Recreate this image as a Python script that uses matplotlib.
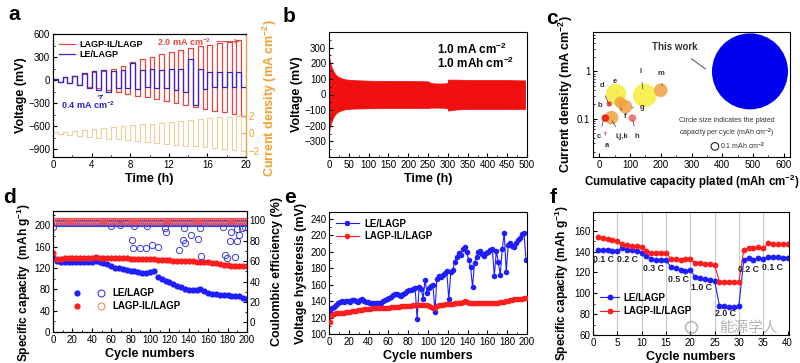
import numpy as np
import matplotlib
matplotlib.use('Agg')
import matplotlib.pyplot as plt
import matplotlib.font_manager as fm
from matplotlib.lines import Line2D
from matplotlib.legend_handler import HandlerTuple
from matplotlib.ticker import MultipleLocator, LogLocator, NullFormatter, FixedLocator, FixedFormatter

avail = {f.name for f in fm.fontManager.ttflist}
BASE = 'Liberation Sans Narrow' if 'Liberation Sans Narrow' in avail else 'Liberation Sans'
plt.rcParams['font.family'] = [BASE, 'DejaVu Sans']
plt.rcParams['mathtext.fontset'] = 'custom'
plt.rcParams['mathtext.rm'] = BASE
plt.rcParams['mathtext.bf'] = BASE + ':bold'
plt.rcParams['mathtext.default'] = 'bf'

# ---------------- data ----------------
# (a) symmetric cell, one cycle per hour, current stepped each cycle
a_current = [0.1, 0.2, 0.3, 0.4, 0.5, 0.6, 0.7, 0.8, 0.9, 1.0,
             1.1, 1.2, 1.3, 1.4, 1.5, 1.6, 1.7, 1.8, 1.9, 2.0]
a_red_top = [20, 40, 60, 80, 100, 125, 150, 190, 230, 270,
             305, 340, 370, 395, 420, 440, 460, 480, 500, 520]
a_red_bot = [-20, -40, -60, -85, -105, -125, -150, -180, -200, -225,
             -250, -275, -300, -325, -350, -375, -400, -420, -445, -470]
a_blue_top = [20, 35, 60, 90, 115, 135, 120, 130, 220, 130,
              150, 130, 150, 150, 270, 150, 105, 105, 105, 105]
a_blue_bot = [-20, -35, -65, -100, -130, -150, -100, -100, -110, -90,
              -100, -100, -130, -150, -330, -120, -90, -90, -90, -90]

# (b) long-term cycling envelope
b_time = [0, 2, 5, 10, 15, 20, 30, 40, 60, 100, 150, 200, 250, 258, 280, 299, 301, 320, 350, 400, 450, 495]
b_top = [250, 215, 185, 155, 132, 118, 105, 97, 92, 88, 86, 86, 84, 72, 70, 72, 95, 95, 92, 92, 92, 90]
b_bot = [-245, -210, -180, -150, -128, -115, -102, -95, -90, -88, -86, -86, -86, -84, -84, -86, -103, -96, -92, -92, -92, -92]

# (c) literature comparison
c_names = ['l', 'e', 'm', 'f', 'g', 'i,j,k', 'd', 'h', 'c', 'a', 'This work']
c_cum = [148, 55, 200, 68, 85, 40, 33, 108, 20, 20, 490]
c_cd = [0.31, 0.33, 0.40, 0.22, 0.18, 0.105, 0.205, 0.103, 0.103, 0.05, 1.0]
c_cap = [0.31, 0.27, 0.18, 0.15, 0.18, 0.18, 0.07, 0.10, 0.10, 0.04, 1.0]
c_colors = ['#f6ef3a', '#f6ea3a', '#f0a040', '#f0a040', '#f0a040', '#f0a040',
            '#ee3010', '#f06060', '#ee1100', '#f08080', '#0000ee']

# (d) full cell cycling
d_cyc = np.arange(0, 201, 4)
d_cap_le = [138, 133, 132, 131, 131, 131, 131, 132, 132, 132, 132, 133, 132, 130, 127, 124, 121,
            120, 118, 116, 114, 114, 112, 111, 110, 112, 114, 104, 99, 95, 93, 90, 87, 84, 81, 78,
            78, 79, 81, 76, 74, 72, 71, 70, 69, 70, 68, 67, 67, 64, 61]
d_cap_il = [148, 137, 137, 138, 138, 138, 138, 139, 139, 139, 139, 140, 139, 139, 138, 138, 138,
            138, 138, 138, 137, 137, 137, 137, 137, 137, 137, 136, 136, 136, 135, 134, 134, 134, 133,
            133, 133, 132, 132, 131, 131, 130, 129, 128, 126, 125, 124, 124, 123, 123, 123]
d_ce_cyc = np.arange(0, 201, 2)
d_ce_le = [93.5, 96.8, 97.0, 97.2, 96.9, 97.1, 97.0, 96.8, 97.2, 97.0,
           96.9, 97.1, 97.0, 97.2, 96.8, 97.0, 97.1, 96.9, 97.0, 97.2,
           97.0, 96.8, 97.1, 97.0, 96.9, 97.2, 97.0, 97.1, 96.8, 97.0,
           97.2, 96.9, 97.0, 97.1, 96.8, 97.0, 97.2, 96.9, 97.0, 97.1,
           96.8, 97.0, 97.2, 96.9, 97.0, 97.1, 96.8, 97.0, 97.2, 96.9,
           97.0, 97.1, 96.8, 97.0, 97.2, 96.9, 97.0, 97.1, 96.8, 97.0,
           97.2, 96.9, 97.0, 97.1, 96.8, 97.0, 97.2, 96.9, 97.0, 97.1,
           96.8, 97.0, 97.2, 96.9, 97.0, 97.1, 96.8, 97.0, 97.2, 96.9,
           97.0, 97.1, 96.8, 97.0, 97.2, 96.9, 97.0, 97.1, 96.8, 97.0,
           97.2, 96.9, 97.0, 97.1, 96.8, 97.0, 97.2, 96.9, 97.0, 97.1, 96.8]
d_ce_il = [97.0, 99.3, 99.5, 99.6, 99.5, 99.7, 99.6, 99.5, 99.6, 99.7,
           99.5, 99.6, 99.7, 99.5, 99.6, 99.6, 99.5, 99.7, 99.6, 99.5,
           99.6, 99.7, 99.5, 99.6, 99.6, 99.5, 99.7, 99.6, 99.5, 99.6,
           99.7, 99.5, 99.6, 99.6, 99.5, 99.7, 99.6, 99.5, 99.6, 99.7,
           99.5, 99.6, 99.6, 99.5, 99.7, 99.6, 99.5, 99.6, 99.7, 99.5,
           99.6, 99.6, 99.5, 99.7, 99.6, 99.5, 99.6, 99.7, 99.5, 99.6,
           99.6, 99.5, 99.7, 99.6, 99.5, 99.6, 99.7, 99.5, 99.6, 99.6,
           99.5, 99.7, 99.6, 99.5, 99.6, 99.7, 99.5, 99.6, 99.6, 99.5,
           99.7, 99.6, 99.5, 99.6, 99.7, 99.5, 99.6, 99.6, 99.5, 99.7,
           99.6, 99.5, 99.6, 99.7, 99.5, 99.6, 99.6, 99.5, 99.7, 99.6, 99.5]
d_out_cyc = [60, 69, 84, 97, 81, 82, 90, 96, 102, 108, 115, 117, 130, 134, 136, 135, 142, 149,
             152, 153, 175, 177, 179, 182, 183, 188, 190, 192, 195, 198, 190]
d_out_ce = [94.5, 95, 94.5, 94.5, 81, 73, 73, 73, 75.6, 74, 92, 88.6, 70.8, 81, 78, 92.5, 85.4,
            81.8, 92.5, 65, 93.5, 66, 63, 79.5, 88, 63.6, 79.5, 85.4, 92.5, 93.5, 91]

# (e) voltage hysteresis
e_cyc = np.arange(1, 200, 2)
e_le = [127, 131, 133, 135, 137, 139, 140, 139, 140, 140,
        139, 141, 141, 140, 139, 141, 142, 140, 139, 139,
        138, 138, 137, 137, 137, 138, 138, 140, 141, 143,
        144, 145, 147, 148, 149, 147, 146, 148, 150, 152,
        153, 153, 154, 156, 118, 157, 155, 143, 165, 150,
        156, 158, 159, 127, 167, 170, 169, 172, 174, 176,
        142, 175, 178, 187, 194, 198, 196, 203, 206, 200,
        190, 181, 157, 186, 194, 199, 201, 197, 195, 198,
        200, 202, 203, 170, 201, 187, 172, 203, 223, 175,
        208, 210, 207, 205, 210, 214, 217, 221, 222, 190]
e_il = [115, 123, 124, 125, 125, 126, 126, 126, 127, 127,
        127, 128, 128, 128, 129, 129, 129, 130, 130, 130,
        130, 131, 131, 131, 131, 131, 132, 132, 132, 132,
        132, 133, 133, 133, 133, 133, 134, 134, 134, 134,
        134, 134, 135, 135, 135, 135, 135, 135, 135, 135,
        134, 133, 131, 132, 134, 135, 135, 135, 136, 136,
        136, 136, 136, 137, 137, 137, 138, 139, 140, 139,
        138, 138, 138, 138, 138, 138, 138, 138, 138, 138,
        138, 138, 138, 138, 138, 138, 139, 139, 139, 140,
        140, 141, 141, 142, 142, 142, 143, 143, 144, 144]

# (f) rate capability
f_cyc = np.arange(1, 41)
f_le = [142, 142, 142, 141, 141, 143, 142, 142, 141, 139,
        136, 133, 132, 132, 132, 125, 124, 122, 121, 122,
        116, 115, 114, 113, 112, 88, 88, 87, 87, 88,
        132, 134, 132, 134, 133, 135, 135, 135, 134, 134]
f_il = [154, 153, 152, 151, 150, 147, 146, 145, 145, 144,
        141, 139, 139, 139, 139, 133, 133, 132, 133, 133,
        129, 129, 128, 128, 127, 111, 111, 111, 111, 111,
        142, 143, 143, 144, 143, 148, 147, 147, 147, 147]
f_rates = ['0.1 C', '0.2 C', '0.3 C', '0.5 C', '1.0 C', '2.0 C', '0.2 C', '0.1 C']

# ---------------- figure ----------------
W, H = 800, 363
fig = plt.figure(figsize=(8, 3.63), dpi=100)


def rect(l, t, r, b):
    return [l / W, 1 - b / H, (r - l) / W, (b - t) / H]


BLUE = '#1e1eff'
RED = '#ff1e1e'
LBL = dict(fontsize=9, fontweight='bold')
TK = 7


def style(ax):
    ax.tick_params(which='both', direction='in', labelsize=TK, pad=2)
    ax.tick_params(which='major', length=3)
    ax.tick_params(which='minor', length=1.6)
    for s in ax.spines.values():
        s.set_linewidth(0.8)


def panel_letter(x, y, s):
    fig.text(x / W, 1 - y / H, s, fontsize=15, fontweight='bold', ha='center', va='center',
             family=['Liberation Sans', 'DejaVu Sans'])


# ---- (a)
ax = fig.add_axes(rect(53, 34, 246, 157))
edges = np.arange(0, 20.01, 0.5)
red_v = np.ravel(np.column_stack([a_red_top, a_red_bot]))
blue_v = np.ravel(np.column_stack([a_blue_top, a_blue_bot]))
cur_v = np.ravel(np.column_stack([a_current, -np.array(a_current)]))
ax.plot(edges, np.append(red_v, red_v[-1]), drawstyle='steps-post', color='#e8463f', lw=0.9,
        label='LAGP-IL/LAGP')
ax.plot(edges, np.append(blue_v, blue_v[-1]), drawstyle='steps-post', color='#3326c8', lw=0.9,
        label='LE/LAGP')
ax.set_xlim(0, 20)
ax.set_ylim(-1000, 600)
ax.xaxis.set_major_locator(MultipleLocator(4))
ax.xaxis.set_minor_locator(MultipleLocator(2))
ax.yaxis.set_major_locator(FixedLocator([-900, -600, -300, 0, 300, 600]))
ax.yaxis.set_minor_locator(MultipleLocator(150))
style(ax)
ax.set_xlabel('Time (h)', labelpad=2, **LBL)
ax.set_ylabel('Voltage (mV)', labelpad=1, **LBL)
ax.legend(loc='upper left', frameon=False, prop={'weight': 'bold', 'size': 6.5},
          handlelength=1.8, borderaxespad=0.25, labelspacing=0.15, handletextpad=0.5)
ax.annotate('2.0 mA cm$^{-2}$', xy=(19.6, 505), xytext=(13.6, 495), color='#e8463f',
            fontsize=6.5, fontweight='bold', ha='center', va='center',
            arrowprops=dict(arrowstyle='->', color='#e8463f', lw=0.7))
ax.annotate('0.4 mA cm$^{-2}$', xy=(5.4, -170), xytext=(3.6, -330), color='#2a20c8',
            fontsize=6.5, fontweight='bold', ha='center', va='center',
            arrowprops=dict(arrowstyle='->', color='#2a20c8', lw=0.7))
ax2 = ax.twinx()
ax2.plot(edges, np.append(cur_v, cur_v[-1]), drawstyle='steps-post', color='#eecf9c', lw=0.8)
ax2.set_ylim(-2.7, 11.3)
ax2.yaxis.set_major_locator(FixedLocator([-2, 0, 2]))
style(ax2)
ax2.spines['right'].set_color('#f0a030')
ax2.tick_params(axis='y', colors='#f0a030', labelsize=TK)
ax2.set_ylabel('Current density (mA cm$^{-2}$)', color='#f0a030', labelpad=1, y=0.48, **LBL)
panel_letter(14, 15, 'a')

# ---- (b)
ax = fig.add_axes(rect(329, 32, 527, 157))
ax.fill_between(b_time, b_bot, b_top, color='#f01010', lw=0.6, edgecolor='#f01010')
ax.set_xlim(0, 500)
ax.set_ylim(-400, 400)
ax.xaxis.set_major_locator(MultipleLocator(50))
ax.xaxis.set_minor_locator(MultipleLocator(25))
ax.yaxis.set_major_locator(FixedLocator([-300, -200, -100, 0, 100, 200, 300]))
ax.yaxis.set_minor_locator(MultipleLocator(50))
style(ax)
ax.set_xlabel('Time (h)', labelpad=2, **LBL)
ax.set_ylabel('Voltage (mV)', labelpad=1, **LBL)
ax.text(273, 290, '1.0 mA cm$^{-2}$', fontsize=8.5, fontweight='bold', va='center')
ax.text(273, 200, '1.0 mAh cm$^{-2}$', fontsize=8.5, fontweight='bold', va='center')
panel_letter(289, 16, 'b')

# ---- (c)
ax = fig.add_axes(rect(593, 32, 790, 157))
px_per_mAh = 76.0
sizes = [(cap * px_per_mAh * 0.72) ** 2 for cap in c_cap]
for x, y, s, col, name in zip(c_cum, c_cd, sizes, c_colors, c_names):
    alpha = 1.0 if name == 'This work' else 0.85
    ax.scatter([x], [y], s=s, color=col, alpha=alpha, edgecolors='none', zorder=3)
ax.set_yscale('log')
ax.set_xlim(-20, 620)
ax.set_ylim(0.0155, 6.8)
ax.xaxis.set_major_locator(MultipleLocator(100))
ax.xaxis.set_minor_locator(MultipleLocator(50))
ax.yaxis.set_major_locator(FixedLocator([0.1, 1]))
ax.yaxis.set_major_formatter(FixedFormatter(['0.1', '1']))
ax.yaxis.set_minor_locator(LogLocator(base=10, subs=np.arange(2, 10)))
ax.yaxis.set_minor_formatter(NullFormatter())
style(ax)
ax.set_xlabel('Cumulative capacity plated (mAh cm$^{-2}$)', labelpad=2, fontsize=8.3,
              fontweight='bold')
ax.set_ylabel('Current density (mA cm$^{-2}$)', labelpad=1, **LBL)
lab_pos = {'a': ((26, 0.027), (21, 0.046)), 'b': ((2, 0.19), (15, 0.11)),
           'c': ((0, 0.042), (14, 0.095)), 'd': ((8, 0.5), (30, 0.21)),
           'e': ((51, 0.6), (55, 0.36)), 'f': ((84, 0.112), (70, 0.17)),
           'g': ((141, 0.17), (105, 0.17)), 'h': ((121, 0.042), (110, 0.09)),
           'i,j,k': ((73, 0.042), (42, 0.09)), 'l': ((135, 0.98), (142, 0.42)),
           'm': ((200, 0.9), (205, 0.5))}
for k, (tp, xp) in lab_pos.items():
    ax.annotate(k, xy=xp, xytext=tp, fontsize=5.5, fontweight='bold', ha='center', va='center',
                color='#333333',
                arrowprops=dict(arrowstyle='-', color='#333333', lw=0.5, shrinkA=3, shrinkB=0))
ax.annotate('This work', xy=(345, 1.13), xytext=(246, 3.3), fontsize=7, fontweight='bold',
            ha='center', va='center', color='#333333',
            arrowprops=dict(arrowstyle='-', color='#333333', lw=0.6, shrinkA=5, shrinkB=0))
ax.text(414, 0.063, 'Circle size indicates the plated\ncapacity per cycle (mAh cm$^{-2}$)',
        fontsize=5, ha='center', va='center', color='#333333', linespacing=1.3)
ax.scatter([376], [0.026], s=(0.1 * px_per_mAh * 0.72) ** 2, facecolors='none',
           edgecolors='#222222', linewidths=0.8, zorder=4)
ax.text(392, 0.026, '0.1 mAh cm$^{-2}$', fontsize=5, va='center', color='#333333')
panel_letter(552, 18, 'c')

# ---- (d)
ax = fig.add_axes(rect(53, 211, 247, 332))
ax.plot(d_cyc, d_cap_le, 'o', color=BLUE, ms=4.5, mec='none', zorder=3)
ax.plot(d_cyc, d_cap_il, 'o', color=RED, ms=4.5, mec='none', zorder=3)
ax.set_xlim(0, 200)
ax.set_ylim(0, 227)
ax.xaxis.set_major_locator(MultipleLocator(20))
ax.xaxis.set_minor_locator(MultipleLocator(10))
ax.yaxis.set_major_locator(FixedLocator([0, 40, 80, 120, 160, 200]))
ax.yaxis.set_minor_locator(MultipleLocator(20))
style(ax)
ax.set_xlabel('Cycle numbers', labelpad=2, **LBL)
ax.set_ylabel('Specific capacity  (mAh g$^{-1}$)', labelpad=1, y=0.41, fontsize=8.6,
              fontweight='bold')
axd2 = ax.twinx()
axd2.plot(d_ce_cyc, d_ce_le, 'o', mfc='none', mec='#3a3ae0', ms=4.5, mew=0.7)
axd2.plot(d_out_cyc, d_out_ce, 'o', mfc='none', mec='#3a3ae0', ms=4.5, mew=0.7)
axd2.plot(d_ce_cyc, d_ce_il, 'o', mfc='none', mec='#f05050', ms=4.5, mew=0.7)
axd2.set_ylim(-9.4, 109)
axd2.yaxis.set_major_locator(FixedLocator([0, 20, 40, 60, 80, 100]))
axd2.yaxis.set_minor_locator(MultipleLocator(10))
style(axd2)
axd2.set_ylabel('Coulombic efficiency (%)', labelpad=4, **LBL)
h1 = (Line2D([], [], marker='o', ls='', color=BLUE, ms=4.5, mec='none'),
      Line2D([], [], marker='o', ls='', mfc='none', mec='#3a3ae0', ms=5, mew=0.8))
h2 = (Line2D([], [], marker='o', ls='', color=RED, ms=4.5, mec='none'),
      Line2D([], [], marker='o', ls='', mfc='none', mec='#e8906a', ms=5, mew=0.8))
ax.legend([h1, h2], ['LE/LAGP', 'LAGP-IL/LAGP'],
          handler_map={tuple: HandlerTuple(ndivide=None, pad=1.6)},
          loc='lower left', bbox_to_anchor=(0.06, 0.1), frameon=False, handlelength=3.2,
          prop={'weight': 'bold', 'size': 7}, labelspacing=0.3, handletextpad=0.8)
panel_letter(10, 197, 'd')

# ---- (e)
ax = fig.add_axes(rect(329, 212, 527, 334))
ax.plot(e_cyc, e_il, '-o', color=RED, ms=4, lw=0.8, mec='none', label='LAGP-IL/LAGP', zorder=3)
ax.plot(e_cyc, e_le, '-o', color=BLUE, ms=4, lw=0.8, mec='none', label='LE/LAGP', zorder=2)
ax.set_xlim(0, 200)
ax.set_ylim(100, 248)
ax.xaxis.set_major_locator(MultipleLocator(20))
ax.xaxis.set_minor_locator(MultipleLocator(10))
ax.yaxis.set_major_locator(MultipleLocator(20))
ax.yaxis.set_minor_locator(MultipleLocator(10))
style(ax)
ax.set_xlabel('Cycle numbers', labelpad=2, **LBL)
ax.set_ylabel('Voltage hysteresis (mV)', labelpad=2, **LBL)
hs, ls = ax.get_legend_handles_labels()
ax.legend(hs[::-1], ls[::-1], loc='upper left', frameon=False, prop={'weight': 'bold', 'size': 7},
          handlelength=2.4, borderaxespad=0.3, labelspacing=0.25, handletextpad=0.5)
panel_letter(290, 198, 'e')

# ---- (f)
ax = fig.add_axes(rect(593, 212, 789, 335))
for xv in range(5, 40, 5):
    ax.axvline(xv, color='#c8c8c8', lw=0.8, zorder=0)
ax.plot(f_cyc, f_le, '-o', color=BLUE, ms=4.2, lw=0.8, mec='none', label='LE/LAGP')
ax.plot(f_cyc, f_il, '-o', color=RED, ms=4.2, lw=0.8, mec='none', label='LAGP-IL/LAGP')
ax.set_xlim(0, 40.3)
ax.set_ylim(60, 178)
ax.xaxis.set_major_locator(MultipleLocator(5))
ax.yaxis.set_major_locator(FixedLocator([60, 80, 100, 120, 140, 160]))
ax.yaxis.set_minor_locator(MultipleLocator(10))
style(ax)
ax.set_xlabel('Cycle numbers', labelpad=2, **LBL)
ax.set_ylabel('Specific capacity (mAh g$^{-1}$)', labelpad=2, y=0.42, fontsize=8.6,
              fontweight='bold')
rate_pos = [(2.1, 132.5), (7.1, 132.5), (12.5, 124), (17.5, 113.7), (22.4, 105.7),
            (27.2, 80.5), (31.9, 123), (37, 125)]
for lab, (xx, yy) in zip(f_rates, rate_pos):
    ax.text(xx, yy, lab, fontsize=6.3, fontweight='bold', ha='center', va='center', color='#222222')
ax.legend(loc='lower left', bbox_to_anchor=(-0.01, 0.08), frameon=False,
          prop={'weight': 'bold', 'size': 7}, handlelength=2.0, labelspacing=0.4, handletextpad=0.4)
panel_letter(553, 197, 'f')

# watermark (logo ring + text)
fig.add_artist(Line2D([691 / W], [1 - 327 / H], marker='o', ms=8.5, mfc='none', mec='#a8a8a8',
                      mew=1.2, alpha=0.8, transform=fig.transFigure))
fig.text(748 / W, 1 - 327.5 / H, '能源学人', fontsize=10.5, color='#9a9a9a', alpha=0.75,
         ha='center', va='center', family=['Noto Sans CJK SC', 'DejaVu Sans'])

fig.savefig('out.png', dpi=100)
